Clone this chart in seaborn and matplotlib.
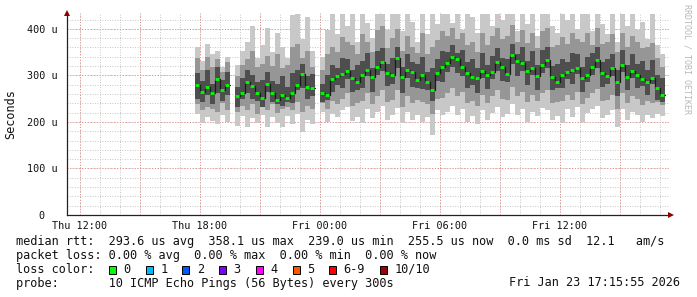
import numpy as np
import matplotlib
matplotlib.use("Agg")
import matplotlib.pyplot as plt
from matplotlib.patches import Rectangle
import seaborn as sns

nan = np.nan

# ---------------- data ----------------
START_HOUR = 17.75      # Thu 17:45, hours since Thu 00:00
STEP_HOURS = 0.25       # one column = 15 minutes

median = [280, 265, 275, 262, 292, 268, 280, nan, 255, 262,
          285, 278, 262, 252, 282, 262, 248, 258, 252, 262,
          280, 302, 275, 272, nan, 262, 258, 292, 298, 303,
          310, 295, 286, 300, 312, 296, 318, 329, 305, 301,
          338, 297, 312, 307, 290, 300, 285, 269, 305, 318,
          327, 340, 335, 318, 305, 296, 294, 310, 300, 307,
          329, 318, 302, 344, 330, 327, 310, 316, 298, 322,
          333, 297, 286, 300, 307, 312, 316, 295, 301, 318,
          333, 305, 298, 316, 285, 323, 297, 310, 301, 292,
          286, 295, 273, 258]

ping_min = [218, 198, 210, 202, 195, 215, 200, nan, 192, 212,
            188, 208, 198, 215, 190, 210, 198, 188, 212, 195,
            218, 178, 205, 196, nan, 222, 200, 218, 210, 225,
            232, 202, 210, 198, 228, 208, 222, 235, 205, 215,
            230, 198, 222, 205, 215, 200, 210, 172, 225, 215,
            222, 235, 215, 228, 200, 212, 195, 225, 205, 220,
            232, 210, 218, 238, 215, 228, 200, 222, 212, 230,
            225, 205, 212, 198, 228, 210, 232, 200, 220, 228,
            235, 208, 215, 225, 190, 228, 205, 222, 215, 200,
            215, 208, 218, 212]

ping_lo = [238, 225, 232, 228, 222, 240, 226, nan, 222, 235,
           225, 238, 218, 232, 226, 238, 220, 228, 232, 225,
           242, 222, 235, 228, nan, 240, 228, 245, 238, 250,
           262, 235, 240, 245, 262, 238, 255, 268, 242, 248,
           268, 232, 255, 240, 248, 242, 238, 218, 250, 252,
           262, 272, 255, 265, 240, 245, 235, 258, 240, 255,
           268, 250, 248, 275, 255, 265, 242, 258, 245, 262,
           268, 240, 242, 245, 258, 248, 265, 238, 252, 262,
           270, 245, 248, 258, 228, 262, 240, 255, 250, 236,
           245, 240, 242, 236]

ping_lo_in = [250, 242, 258, 238, 262, 245, 258, nan, 232, 250,
              262, 250, 245, 232, 265, 242, 238, 235, 242, 240,
              268, 272, 250, 255, nan, 242, 248, 265, 280, 272,
              292, 265, 268, 272, 298, 265, 300, 310, 278, 282,
              315, 262, 295, 275, 272, 270, 268, 245, 288, 285,
              308, 318, 305, 298, 272, 280, 262, 295, 270, 292,
              310, 288, 285, 325, 298, 310, 280, 300, 268, 305,
              315, 268, 272, 272, 292, 282, 302, 265, 285, 300,
              315, 275, 282, 298, 255, 308, 268, 295, 272, 278,
              258, 282, 248, 242]

ping_hi_in = [305, 288, 312, 282, 318, 290, 308, nan, 276, 295,
              312, 300, 285, 290, 308, 288, 282, 298, 276, 305,
              312, 325, 298, 302, nan, 282, 300, 322, 315, 338,
              335, 312, 322, 330, 348, 315, 352, 358, 325, 338,
              362, 318, 345, 328, 325, 340, 308, 315, 335, 352,
              350, 365, 348, 355, 328, 335, 315, 348, 322, 342,
              358, 338, 335, 368, 345, 360, 330, 352, 322, 355,
              362, 320, 325, 335, 328, 348, 345, 318, 340, 348,
              362, 328, 335, 345, 312, 355, 322, 345, 325, 330,
              312, 332, 300, 295]

ping_hi = [338, 312, 340, 318, 335, 308, 328, nan, 298, 322,
           335, 352, 318, 325, 342, 320, 345, 315, 322, 362,
           368, 338, 352, 318, nan, 312, 345, 362, 350, 382,
           372, 365, 345, 388, 372, 350, 398, 405, 358, 380,
           400, 352, 385, 362, 348, 390, 345, 360, 375, 395,
           385, 402, 378, 392, 365, 372, 350, 392, 365, 385,
           402, 378, 385, 408, 372, 398, 370, 392, 358, 395,
           402, 360, 365, 382, 368, 390, 378, 372, 392, 365,
           402, 368, 372, 388, 350, 392, 360, 385, 372, 358,
           360, 370, 338, 318]

ping_max = [362, 330, 368, 345, 352, 318, 340, nan, 322, 352,
            372, 405, 338, 365, 402, 350, 392, 362, 338, 430,
            432, 378, 425, 352, nan, 340, 398, 432, 388, 432,
            405, 432, 372, 432, 412, 380, 432, 432, 398, 432,
            432, 395, 432, 415, 372, 432, 388, 432, 410, 432,
            432, 412, 432, 398, 432, 425, 392, 432, 432, 405,
            432, 418, 432, 432, 395, 432, 410, 432, 385, 432,
            432, 405, 392, 432, 418, 432, 400, 432, 432, 395,
            432, 410, 388, 432, 372, 432, 405, 432, 398, 415,
            378, 432, 365, 345]

x_ticks = [12, 18, 24, 30, 36]
x_labels = ["Thu 12:00", "Thu 18:00", "Fri 00:00", "Fri 06:00", "Fri 12:00"]
y_ticks = [0, 100, 200, 300, 400]
y_labels = ["0  ", "100 u", "200 u", "300 u", "400 u"]

loss_labels = ["0", "1", "2", "3", "4", "5", "6-9", "10/10"]
loss_colors = ["#00ff00", "#00b8ff", "#0059ff", "#7e00ff",
               "#ff00ff", "#ff5500", "#ff0000", "#a10000"]

row_rtt = ("median rtt:  293.6 us avg  358.1 us max  239.0 us min  "
           "255.5 us now  0.0 ms sd  12.1   am/s")
row_loss = "packet loss: 0.00 % avg  0.00 % max  0.00 % min  0.00 % now"
row_probe = "probe:       10 ICMP Echo Pings (56 Bytes) every 300s"
stamp = "Fri Jan 23 17:15:55 2026"
watermark = "RRDTOOL / TOBI OETIKER"

# ---------------- figure ----------------
W, H = 697, 297
sns.set_theme(style="white")
plt.rcParams["font.family"] = ["DejaVu Sans Mono", "DejaVu Sans"]

fig = plt.figure(figsize=(W / 100, H / 100), dpi=100)
fig.patch.set_facecolor("white")
ax = fig.add_axes([67 / W, 82 / H, 602 / W, 202 / H])
ax.set_facecolor("white")

n = len(median)
t = START_HOUR + STEP_HOURS * np.arange(n)
xs = np.column_stack([t, t + STEP_HOURS]).ravel()


def dbl(a):
    return np.repeat(np.asarray(a, dtype=float), 2)


layers = [(ping_min, ping_max, "#c8c8c8"),
          (ping_lo, ping_hi, "#969696"),
          (ping_lo_in, ping_hi_in, "#4e4e4e")]
for lo, hi, col in layers:
    ax.fill_between(xs, dbl(lo), dbl(hi), color=col, linewidth=0, zorder=2)

# median: dark step connector + green level marks
ax.plot(xs, dbl(median), color="#1a1a1a", lw=0.9, zorder=3)
sns.scatterplot(x=t + STEP_HOURS / 2, y=median, marker="_", s=9,
                color="#00ff00", linewidth=2.0, ax=ax, zorder=4, legend=False)

ax.set_xlim(11.35, 41.45)
ax.set_ylim(0, 434)

# grids
minor_x = np.arange(12, 42, 1)
major_x = np.arange(12, 42, 3)
minor_y = np.arange(0, 434, 20)
for v in minor_x:
    ax.axvline(v, color="#b4b4b4", lw=0.6, ls=(0, (1, 2)), zorder=1)
for v in minor_y:
    ax.axhline(v, color="#b4b4b4", lw=0.6, ls=(0, (1, 2)), zorder=1)
for v in major_x:
    ax.axvline(v, color="#e88a8a", lw=0.7, ls=(0, (1, 2)), zorder=1.5)
for v in y_ticks:
    ax.axhline(v, color="#e88a8a", lw=0.7, ls=(0, (1, 2)), zorder=1.5)

ax.set_xticks(x_ticks)
ax.set_xticklabels(x_labels, fontsize=7.3, family="DejaVu Sans Mono", color="#111111")
ax.set_yticks(y_ticks)
ax.set_yticklabels(y_labels, fontsize=7.3, family="DejaVu Sans Mono", color="#111111")
ax.tick_params(axis="x", length=0, pad=4)
ax.tick_params(axis="y", length=0, pad=7)

for s in ["top", "right"]:
    ax.spines[s].set_visible(False)
for s in ["left", "bottom"]:
    ax.spines[s].set_color("#222222")
    ax.spines[s].set_linewidth(0.9)
    ax.spines[s].set_zorder(5)

# axis arrows
ax.plot([0], [1.0], marker="^", ms=4, color="#8b0000", transform=ax.transAxes,
        clip_on=False, zorder=6, mew=0)
ax.plot([1.0 + 2 / 602], [0], marker=">", ms=4, color="#8b0000",
        transform=ax.transAxes, clip_on=False, zorder=6, mew=0)

# y label and watermark
fig.text(11 / W, 1 - 114 / H, "Seconds", rotation=90, ha="center", va="center",
         fontsize=8.5, color="#111111")
fig.text(687 / W, 1 - 4 / H, watermark, rotation=270, ha="center", va="top",
         fontsize=6.0, color="#b8b8b8")

# legend rows
FS = 8.55
CW = 7.14  # px per character
rows_y = [241.5, 255.5, 269.5, 283]
fig.text(16 / W, 1 - rows_y[0] / H, row_rtt, ha="left", va="center", fontsize=FS, color="#111111")
fig.text(16 / W, 1 - rows_y[1] / H, row_loss, ha="left", va="center", fontsize=FS, color="#111111")
fig.text(16 / W, 1 - rows_y[2] / H, "loss color:", ha="left", va="center", fontsize=FS, color="#111111")
fig.text(16 / W, 1 - rows_y[3] / H, row_probe, ha="left", va="center", fontsize=FS, color="#111111")
fig.text(680 / W, 1 - rows_y[3] / H, stamp, ha="right", va="center", fontsize=FS, color="#111111")

bx = 109.0
for lab, col in zip(loss_labels, loss_colors):
    fig.patches.append(Rectangle((bx / W, 1 - (rows_y[2] + 4) / H), 7 / W, 8 / H,
                                 transform=fig.transFigure, facecolor=col,
                                 edgecolor="#000000", linewidth=0.7))
    tx = bx + 14.3
    fig.text(tx / W, 1 - rows_y[2] / H, lab, ha="left", va="center", fontsize=FS, color="#111111")
    bx = tx + (len(lab) + 2.14) * CW

fig.savefig("out.png", dpi=100, facecolor="white")
